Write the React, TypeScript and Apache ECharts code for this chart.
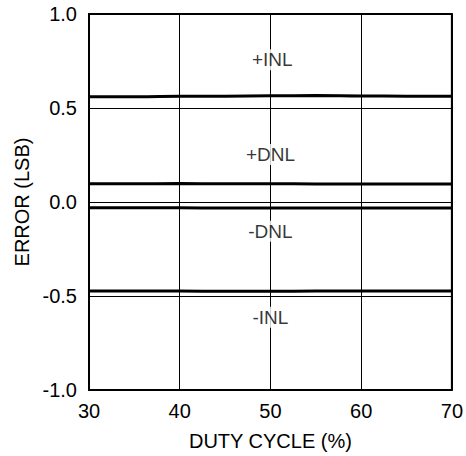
import React, { useEffect, useRef } from "react";
import * as echarts from "echarts";

const dutyCycle = [30, 35, 40, 45, 50, 55, 60, 65, 70];
const plusINL = [0.56, 0.56, 0.562, 0.563, 0.565, 0.566, 0.564, 0.563, 0.563];
const plusDNL = [0.097, 0.097, 0.098, 0.097, 0.097, 0.096, 0.096, 0.096, 0.096];
const minusDNL = [-0.031, -0.031, -0.031, -0.032, -0.032, -0.032, -0.032, -0.032, -0.032];
const minusINL = [-0.473, -0.474, -0.474, -0.475, -0.475, -0.474, -0.474, -0.474, -0.474];

const labelNames = ["+INL", "+DNL", "-DNL", "-INL"];
const labelX = [50.2, 50, 50, 50];
const labelY = [0.756, 0.252, -0.156, -0.613];

const FONT = "Liberation Sans, Arial, sans-serif";

export default function App() {
  const ref = useRef<HTMLDivElement>(null);
  useEffect(() => {
    document.body.style.margin = "0";
    if (!ref.current) return;
    const chart = echarts.init(ref.current, undefined, { renderer: "svg" });
    const lineSeries = (data: number[]) => ({
      type: "line",
      data: dutyCycle.map((x, i) => [x, data[i]]),
      symbol: "none",
      smooth: true,
      lineStyle: { color: "#000", width: 3 },
      z: 3,
    });
    chart.setOption({
      animation: false,
      backgroundColor: "#fff",
      textStyle: { fontFamily: FONT },
      grid: { left: 89, right: 14, top: 14, bottom: 65, containLabel: false },
      xAxis: {
        type: "value",
        min: 30,
        max: 70,
        interval: 10,
        name: "DUTY CYCLE (%)",
        nameLocation: "middle",
        nameGap: 41,
        nameTextStyle: { color: "#000", fontSize: 20, fontFamily: FONT },
        axisLine: { show: false },
        axisTick: { show: false },
        axisLabel: { color: "#000", fontSize: 20, margin: 11, fontFamily: FONT },
        splitLine: { show: true, lineStyle: { color: "#000", width: 1 } },
      },
      yAxis: {
        type: "value",
        min: -1,
        max: 1,
        interval: 0.5,
        name: "ERROR (LSB)",
        nameLocation: "middle",
        nameGap: 57,
        nameTextStyle: { color: "#000", fontSize: 20, fontFamily: FONT },
        axisLine: { show: false },
        axisTick: { show: false },
        axisLabel: {
          color: "#000",
          fontSize: 20,
          margin: 12,
          fontFamily: FONT,
          formatter: (v: number) => v.toFixed(1),
        },
        splitLine: { show: true, lineStyle: { color: "#000", width: 1 } },
      },
      series: [
        lineSeries(plusINL),
        lineSeries(plusDNL),
        lineSeries(minusDNL),
        lineSeries(minusINL),
        {
          type: "scatter",
          data: labelNames.map((n, i) => ({ name: n, value: [labelX[i], labelY[i]] })),
          symbolSize: 0,
          itemStyle: { color: "#000" },
          z: 5,
          label: {
            show: true,
            position: "inside",
            formatter: (p: any) => p.name,
            color: "#000",
            textBorderWidth: 0,
            textBorderColor: "transparent",
            fontSize: 19,
            fontFamily: FONT,
            backgroundColor: "#fff",
            padding: [1, 2],
          },
        },
        {
          type: "line",
          data: [],
          markArea: {
            silent: true,
            itemStyle: { color: "transparent", borderColor: "#000", borderWidth: 2 },
            data: [[{ coord: [30, -1] }, { coord: [70, 1] }]],
          },
        },
      ],
    });
    return () => chart.dispose();
  }, []);
  return <div ref={ref} style={{ width: 466, height: 456 }} />;
}
